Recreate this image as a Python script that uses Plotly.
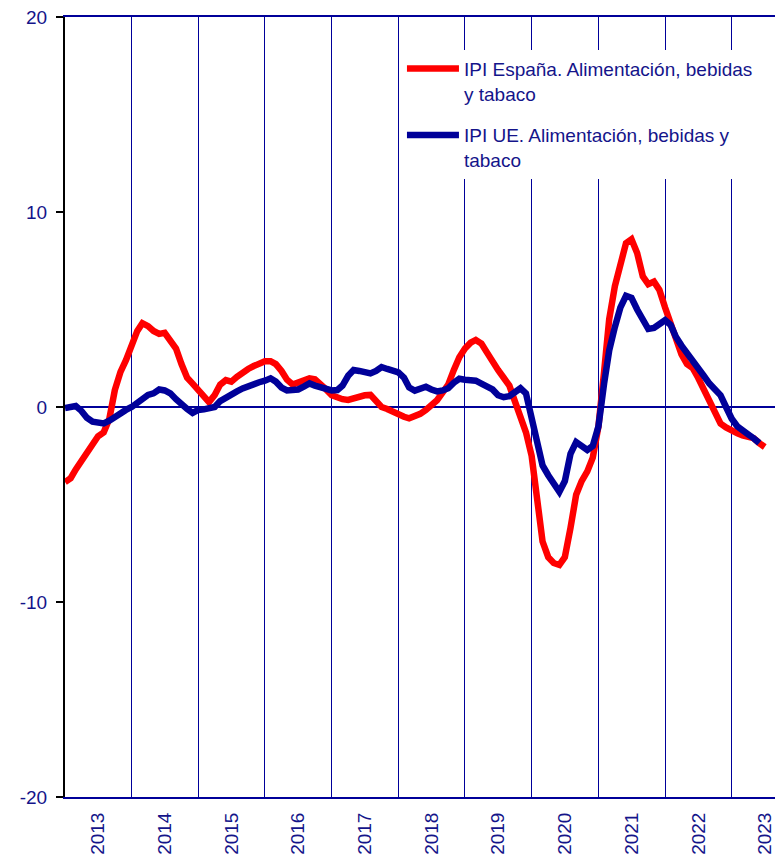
import plotly.graph_objects as go
import pandas as pd

# Monthly data, Jan 2013 onward (tasa de variación, %)
espana = [
    -3.85, -3.65, -3.2, -2.8, -2.3, -1.9, -1.5, -1.3, -0.6, 0.87, 1.8, 2.4,
    3.1, 3.9, 4.3, 4.15, 3.9, 3.75, 3.8, 3.45, 3.0, 2.2, 1.5, 1.2,
    0.85, 0.45, 0.25, 0.62, 1.15, 1.38, 1.3, 1.55, 1.8, 1.95, 2.1, 2.22,
    2.35, 2.35, 2.2, 1.85, 1.4, 1.15, 1.25, 1.35, 1.47, 1.42, 1.2, 0.9,
    0.6, 0.48, 0.4, 0.36, 0.45, 0.55, 0.6, 0.62, 0.3, 0.0, -0.1, -0.25,
    -0.35, -0.5, -0.58, -0.5, -0.35, -0.15, 0.1, 0.35, 0.75, 1.15, 1.9, 2.55,
    3.0, 3.3, 3.44, 3.25, 2.8, 2.3, 1.9, 1.5, 1.1, 0.3, -0.6, -1.3,
    -2.5, -4.8, -6.9, -7.7, -8.0, -8.1, -7.7, -6.2, -4.5, -3.8, -3.3, -2.6,
    -1.0, 1.8, 4.5, 6.2, 7.3, 8.4, 8.6, 7.9, 6.7, 6.3, 6.43, 6.0,
    5.1, 4.2, 3.4, 2.7, 2.2, 2.0, 1.5, 0.9, 0.2, -0.4, -0.85, -1.05,
    -1.25, -1.35, -1.45, -1.5, -1.6, -1.85, -2.05,
]

ue = [
    -0.05, 0.02, 0.05, -0.2, -0.55, -0.75, -0.82, -0.84, -0.7, -0.5, -0.35, -0.15,
    0.0, 0.2, 0.45, 0.62, 0.7, 0.9, 0.85, 0.7, 0.4, 0.1, -0.1, -0.3,
    -0.15, -0.12, -0.1, 0.0, 0.3, 0.5, 0.62, 0.8, 0.95, 1.08, 1.2, 1.27,
    1.35, 1.47, 1.3, 1.0, 0.85, 0.85, 0.9, 1.05, 1.21, 1.1, 1.0, 0.9,
    0.85, 0.87, 1.1, 1.6, 1.9, 1.85, 1.8, 1.72, 1.85, 2.05, 1.95, 1.85,
    1.78, 1.5, 1.0, 0.84, 0.95, 1.04, 0.9, 0.8, 0.85, 0.96, 1.25, 1.45,
    1.4, 1.35, 1.35, 1.2, 1.05, 0.9, 0.6, 0.5, 0.56, 0.8, 0.96, 0.7,
    -0.5, -2.0, -3.0, -3.5, -4.0, -4.35, -3.8, -2.4, -1.8, -2.0, -2.2, -2.0,
    -1.0, 1.2, 2.9, 4.1, 5.1, 5.7, 5.6, 5.0, 4.5, 4.0, 4.05, 4.3,
    4.45, 4.2, 3.6, 3.15, 2.8, 2.4, 2.05, 1.6, 1.2, 0.95, 0.6, 0.0,
    -0.6, -1.0, -1.15, -1.4, -1.6, -1.85,
]

meses_es = pd.date_range("2013-01-01", periods=len(espana), freq="MS")
meses_ue = pd.date_range("2013-01-01", periods=len(ue), freq="MS")

y_ticks = [-20, -10, 0, 10, 20]
y_ticktext = ["-20", "-10", "0", "10", "20"]

NAVY = "#000099"
TEXT = "#14148A"
FONT = "Liberation Sans, Arial, sans-serif"

fig = go.Figure()
fig.add_trace(go.Scatter(
    x=meses_es, y=espana, mode="lines",
    name="IPI España. Alimentación, bebidas<br>y tabaco",
    line=dict(color="#FF0000", width=6.5), legendgroup="es",
))
fig.add_trace(go.Scatter(
    x=meses_ue, y=ue, mode="lines",
    name="IPI UE. Alimentación, bebidas y<br>tabaco",
    line=dict(color=NAVY, width=6.5), legendgroup="ue",
))

# the page body adds an 8px offset; figure size/margins compensate for it
fig.update_layout(
    width=775, height=850,
    margin=dict(l=57, r=0, t=9, b=61, autoexpand=False),
    paper_bgcolor="white", plot_bgcolor="white",
    font=dict(family=FONT, color=TEXT, size=19),
    showlegend=True,
    legend=dict(
        x=0.4693, y=0.958, xanchor="left", yanchor="top",
        bgcolor="white", borderwidth=0,
        font=dict(family=FONT, color=TEXT, size=19),
        valign="top", itemwidth=52, tracegroupgap=14,
    ),
)

fig.update_xaxes(
    type="date",
    range=["2013-01-01", "2023-10-09"],
    dtick="M12", tick0="2013-01-01",
    tickformat="%Y", ticklabelmode="period",
    tickangle=-90,
    showgrid=True, gridcolor=NAVY, gridwidth=1,
    showline=True, linecolor=NAVY, linewidth=2, mirror=True,
    ticks="", ticklabelstandoff=6, automargin=False,
    ticklabeloverflow="allow",
    tickfont=dict(family=FONT, color=TEXT, size=19),
)

fig.update_yaxes(
    range=[-20, 20],
    tickvals=y_ticks, ticktext=y_ticktext,
    showgrid=False,
    zeroline=True, zerolinecolor=NAVY, zerolinewidth=2,
    showline=True, linecolor="black", linewidth=2,
    ticks="outside", ticklen=7, tickwidth=2, tickcolor="black",
    ticklabelstandoff=5, automargin=False,
    ticklabeloverflow="allow",
    tickfont=dict(family=FONT, color=TEXT, size=19),
)

fig.write_html("out.html")
